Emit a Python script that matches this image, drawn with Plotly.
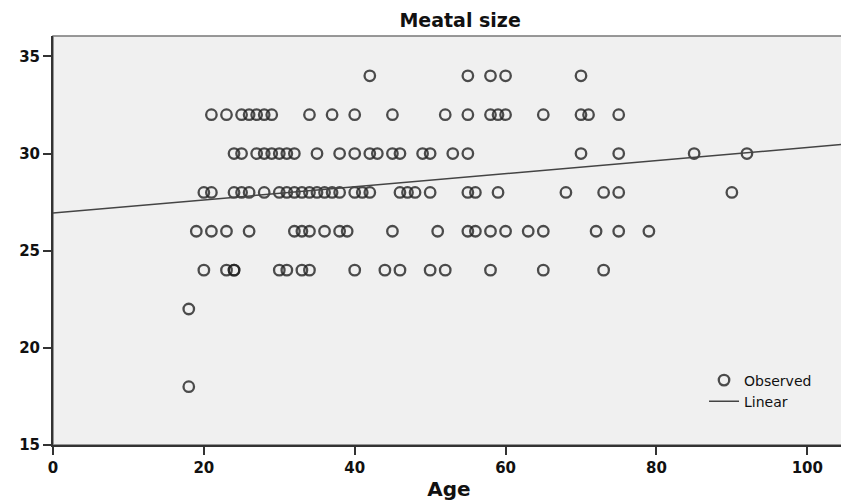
import plotly.graph_objects as go

# Observed ages at each meatal size
ages_34 = [42, 55, 58, 60, 70]
ages_32 = [21, 23, 25, 26, 27, 28, 29, 34, 37, 40, 45, 52, 55, 58, 59, 60, 65, 70, 71, 75]
ages_30 = [24, 25, 27, 28, 29, 30, 31, 32, 35, 38, 40, 42, 43, 45, 46, 49, 50, 53, 55, 70, 75, 85, 92]
ages_28 = [20, 21, 24, 25, 26, 28, 30, 31, 32, 33, 34, 35, 36, 37, 38, 40, 41, 42, 46, 47, 48,
           50, 55, 56, 59, 68, 73, 75, 90]
ages_26 = [19, 21, 23, 26, 32, 33, 34, 36, 38, 39, 45, 51, 55, 56, 58, 60, 63, 65, 72, 75, 79]
ages_24 = [20, 23, 24, 24, 30, 31, 33, 34, 40, 44, 46, 50, 52, 58, 65, 73]
ages_22 = [18]
ages_18 = [18]

groups = [(34, ages_34), (32, ages_32), (30, ages_30), (28, ages_28),
          (26, ages_26), (24, ages_24), (22, ages_22), (18, ages_18)]

# Linear fit
intercept = 26.94
slope = 0.0337
fit_x = [0, 105]

x_ticks = [0, 20, 40, 60, 80, 100]
y_ticks = [15, 20, 25, 30, 35]

xs, ys = [], []
for size, ages in groups:
    for a in ages:
        xs.append(a)
        ys.append(size)

fig = go.Figure()
fig.add_trace(go.Scatter(
    x=xs, y=ys, mode="markers", name="Observed",
    marker=dict(symbol="circle-open", size=10.5, color="#222222", opacity=0.8,
                line=dict(width=2.3, color="#222222")),
))
fig.add_trace(go.Scatter(
    x=fit_x, y=[intercept + slope * v for v in fit_x], mode="lines", name="Linear",
    line=dict(color="#444444", width=1.5),
))

tickfont = dict(family="DejaVu Sans", size=15, color="#111111", weight="bold")

fig.update_layout(
    width=841, height=495,
    margin=dict(l=45, r=4, t=28, b=58),
    paper_bgcolor="white",
    plot_bgcolor="#f0f0f0",
    title=dict(text="<b>Meatal size</b>", x=0.514, xref="paper", xanchor="center",
               y=0.975, yanchor="middle",
               font=dict(family="DejaVu Sans", size=19, color="#111111")),
    showlegend=True,
    legend=dict(x=0.822, y=0.132, xanchor="left", yanchor="middle",
                bgcolor="rgba(0,0,0,0)", tracegroupgap=0, itemwidth=30,
                font=dict(family="DejaVu Sans", size=14, color="#111111")),
    xaxis=dict(range=[0, 105], tickvals=x_ticks, showgrid=False, zeroline=False,
               showline=True, linecolor="#333333", linewidth=2, mirror=False,
               ticks="outside", ticklen=8, tickwidth=2, tickcolor="#333333",
               tickfont=tickfont,
               title=dict(text="<b>Age</b>", standoff=6,
                          font=dict(family="DejaVu Sans", size=20, color="#111111"))),
    yaxis=dict(range=[15, 36.05], tickvals=y_ticks, showgrid=False, zeroline=False,
               showline=True, linecolor="#333333", linewidth=2, mirror=False,
               ticks="outside", ticklen=8, tickwidth=2, tickcolor="#333333",
               tickfont=tickfont),
    shapes=[dict(type="rect", xref="paper", yref="paper", x0=0, y0=0, x1=1, y1=1,
                 line=dict(color="#777777", width=1.5), fillcolor="rgba(0,0,0,0)",
                 layer="below")],
)

fig.write_html("out.html")
